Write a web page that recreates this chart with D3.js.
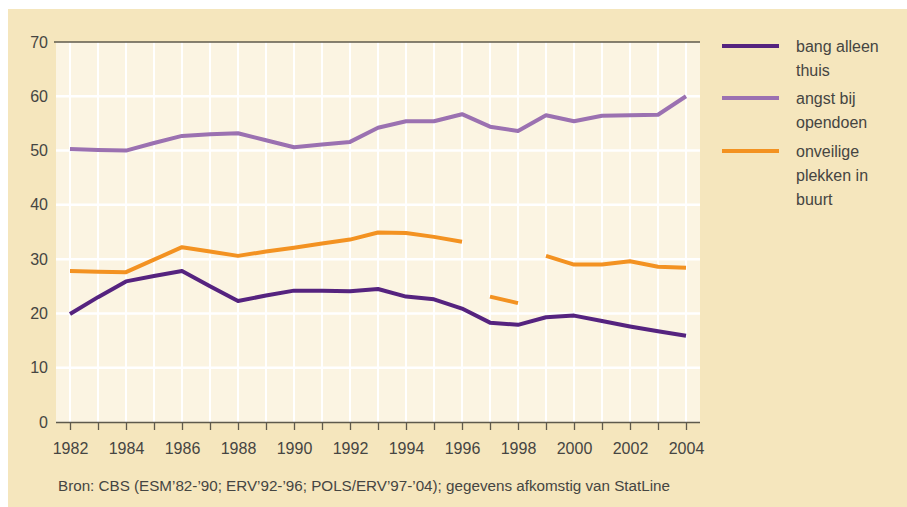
<!DOCTYPE html>
<html>
<head>
<meta charset="utf-8">
<script src="https://cdn.jsdelivr.net/npm/d3@7"></script>
<style>
  html, body { margin: 0; padding: 0; background: #ffffff; }
  svg { display: block; }
</style>
</head>
<body>
<svg id="chart" width="907" height="507"></svg>
<script>
const years = d3.range(1982, 2005);
const bangAlleenThuis = [19.9, 23.0, 25.9, 26.9, 27.8, 25.0, 22.3, 23.3, 24.2, 24.2, 24.1, 24.5, 23.1, 22.6, 20.9, 18.3, 17.9, 19.3, 19.6, 18.6, 17.6, 16.7, 15.9];
const angstBijOpendoen = [50.3, 50.1, 50.0, 51.4, 52.7, 53.0, 53.2, 51.9, 50.6, 51.1, 51.6, 54.2, 55.4, 55.4, 56.7, 54.4, 53.6, 56.5, 55.4, 56.4, 56.5, 56.6, 60.0];
const onveiligePlekken = [27.8, 27.7, 27.6, 29.9, 32.2, 31.4, 30.6, 31.4, 32.1, 32.9, 33.6, 34.9, 34.8, 34.1, 33.2, 23.1, 21.9, 30.6, 29.0, 29.0, 29.6, 28.6, 28.4];
// breaks in the "onveilige plekken" series between survey periods
const onveiligeSegments = [[1982, 1996], [1997, 1998], [1999, 2004]];
const yTicks = [0, 10, 20, 30, 40, 50, 60, 70];
const xTickLabels = d3.range(1982, 2005, 2);
const seriesNames = ["bang alleen thuis", "angst bij opendoen", "onveilige plekken in buurt"];
const legendLines = [["bang alleen", "thuis"], ["angst bij", "opendoen"], ["onveilige", "plekken in", "buurt"]];
const seriesColors = ["#55237f", "#9b71b1", "#f39221"];
const sourceText = "Bron: CBS (ESM\u201982-\u201990; ERV\u201992-\u201996; POLS/ERV\u201997-\u201904); gegevens afkomstig van StatLine";

const svg = d3.select("#chart");
const textColor = "#454542";
const font = "'Liberation Sans', Arial, sans-serif";

// panel background
svg.append("rect").attr("x", 8).attr("y", 9).attr("width", 899).attr("height", 498).attr("fill", "#f5e6bd");

const plot = { left: 56, right: 700, top: 42, bottom: 422 };
const x = d3.scaleLinear().domain([1981.5, 2004.5]).range([plot.left, plot.right]);
const y = d3.scaleLinear().domain([0, 70]).range([plot.bottom, plot.top]);

// plot background
svg.append("rect").attr("x", plot.left).attr("y", plot.top)
  .attr("width", plot.right - plot.left).attr("height", plot.bottom - plot.top)
  .attr("fill", "#fbf4e2");

// grid
const grid = svg.append("g");
grid.selectAll("line.v").data(years).join("line")
  .attr("x1", d => x(d)).attr("x2", d => x(d))
  .attr("y1", plot.top).attr("y2", plot.bottom)
  .attr("stroke", "#ffffff").attr("stroke-width", 2);
grid.selectAll("line.h").data(yTicks.filter(d => d > 0 && d < 70)).join("line")
  .attr("x1", plot.left).attr("x2", plot.right)
  .attr("y1", d => y(d)).attr("y2", d => y(d))
  .attr("stroke", "#ffffff").attr("stroke-width", 2.5);

// top border line
svg.append("line").attr("x1", plot.left - 2).attr("x2", plot.right)
  .attr("y1", y(70)).attr("y2", y(70)).attr("stroke", "#5e5a4c").attr("stroke-width", 1.5);

// x axis
const xAxis = d3.axisBottom(x).tickValues(years).tickSize(8).tickFormat(d => xTickLabels.includes(d) ? d : "");
const gx = svg.append("g").attr("transform", `translate(0,${plot.bottom})`).call(xAxis);
gx.select(".domain").attr("d", `M${plot.left},0.5H${plot.right}`).attr("stroke", "#5e5a4c").attr("stroke-width", 1.5);
gx.selectAll(".tick line").attr("stroke", "#5e5a4c").attr("stroke-width", 1.3);
gx.selectAll(".tick text").attr("fill", textColor).attr("font-size", 16).attr("font-family", font).attr("dy", "1.3em");

// y axis labels
const yAxis = d3.axisLeft(y).tickValues(yTicks).tickSize(0).tickPadding(8);
const gy = svg.append("g").attr("transform", `translate(${plot.left},0)`).call(yAxis);
gy.select(".domain").remove();
gy.selectAll(".tick text").attr("fill", textColor).attr("font-size", 16).attr("font-family", font);

// lines
const line = d3.line().x(d => x(d[0])).y(d => y(d[1]));
const lineGroup = svg.append("g").attr("fill", "none").attr("stroke-width", 4).attr("stroke-linejoin", "round");
lineGroup.append("path").datum(years.map((yr, i) => [yr, angstBijOpendoen[i]]))
  .attr("d", line).attr("stroke", seriesColors[1]);
onveiligeSegments.forEach(([a, b]) => {
  lineGroup.append("path")
    .datum(years.map((yr, i) => [yr, onveiligePlekken[i]]).filter(d => d[0] >= a && d[0] <= b))
    .attr("d", line).attr("stroke", seriesColors[2]);
});
lineGroup.append("path").datum(years.map((yr, i) => [yr, bangAlleenThuis[i]]))
  .attr("d", line).attr("stroke", seriesColors[0]);

// legend
const legendTops = [46, 98, 151];
const legend = svg.append("g");
seriesNames.forEach((name, i) => {
  const g = legend.append("g");
  g.append("line").attr("x1", 722).attr("x2", 779).attr("y1", legendTops[i]).attr("y2", legendTops[i])
    .attr("stroke", seriesColors[i]).attr("stroke-width", 4);
  legendLines[i].forEach((t, j) => {
    g.append("text").attr("x", 796).attr("y", legendTops[i] + 6 + j * 24)
      .attr("fill", textColor).attr("font-size", 16).attr("font-family", font).text(t);
  });
});

// source
svg.append("text").attr("x", 58).attr("y", 491)
  .attr("fill", textColor).attr("font-size", 14).attr("font-family", font)
  .attr("textLength", 612).attr("lengthAdjust", "spacingAndGlyphs")
  .text(sourceText);
</script>
</body>
</html>
